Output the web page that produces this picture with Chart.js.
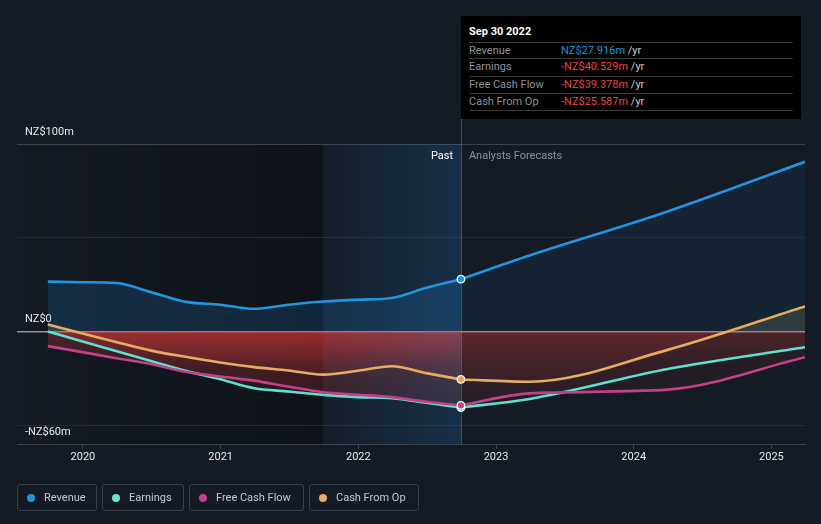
<!DOCTYPE html>
<html>
<head>
<meta charset="utf-8">
<script src="https://cdn.jsdelivr.net/npm/chart.js@4"></script>
<style>
html,body{margin:0;padding:0;background:#151b24;width:821px;height:524px;overflow:hidden;font-family:Roboto,"Noto Sans",sans-serif;}
#wrap{position:relative;width:821px;height:524px;}
#c{position:absolute;left:0;top:0;}
.ann{position:absolute;font-size:11px;line-height:13px;white-space:nowrap;}
#past{color:#ffffff;}
#fc{color:#8c9199;}
.tip{position:absolute;left:461px;top:16px;width:340px;height:103px;background:#000;}
.tip .title{position:absolute;left:8px;top:9px;font-weight:bold;color:#fff;font-size:11px;line-height:13px;}
.tip .row{position:absolute;left:8px;width:324px;height:17px;border-top:1px solid #3a3a3a;font-size:11px;line-height:15px;color:#8e9299;}
.tip .row .v{position:absolute;left:92px;top:0;}
.tip .end{position:absolute;left:8px;width:324px;top:94px;border-top:1px solid #3a3a3a;}
.blue{color:#2394df}.red{color:#ea4646}.unit{color:#c9ccd0}
.legend{position:absolute;left:17px;top:484px;display:flex;gap:5px;}
.li{box-sizing:border-box;height:27px;border:1px solid #3a404a;border-radius:3px;display:flex;align-items:center;padding:0 0 0 9px;font-size:11px;color:#c6c9ce;white-space:nowrap;overflow:hidden;}
.dot{width:8px;height:8px;border-radius:50%;margin-right:9px;flex:none;}
</style>
</head>
<body>
<div id="wrap">
<canvas id="c" width="821" height="524"></canvas>
<div class="ann" id="past">Past</div>
<div class="ann" id="fc">Analysts Forecasts</div>
<div class="tip">
  <div class="title">Sep 30 2022</div>
  <div class="row" style="top:26px">Revenue<span class="v"><span class="blue">NZ$27.916m</span> <span class="unit">/yr</span></span></div>
  <div class="row" style="top:42px">Earnings<span class="v"><span class="red">-NZ$40.529m</span> <span class="unit">/yr</span></span></div>
  <div class="row" style="top:60px">Free Cash Flow<span class="v"><span class="red">-NZ$39.378m</span> <span class="unit">/yr</span></span></div>
  <div class="row" style="top:77px">Cash From Op<span class="v"><span class="red">-NZ$25.587m</span> <span class="unit">/yr</span></span></div>
  <div class="end"></div>
</div>
<div class="legend">
  <div class="li" style="width:80px"><span class="dot" style="background:#2394df"></span>Revenue</div>
  <div class="li" style="width:82px"><span class="dot" style="background:#6ae0d3"></span>Earnings</div>
  <div class="li" style="width:115px"><span class="dot" style="background:#c4418a"></span>Free Cash Flow</div>
  <div class="li" style="width:110px"><span class="dot" style="background:#e6ad62"></span>Cash From Op</div>
</div>
</div>
<script>
// ---- data (NZ$ millions, trailing twelve months) ----
const pastDates = ['2019-09-30','2019-12-31','2020-03-31','2020-06-30','2020-09-30','2020-12-31','2021-03-31','2021-06-30','2021-09-30','2021-12-31','2022-03-31','2022-06-30','2022-09-30'];
const revenuePast  = [26.6, 26.3, 25.9, 21.0, 15.8, 14.3, 12.1, 14.3, 16.0, 17.0, 17.9, 23.3, 27.916];
const earningsPast = [0.0, -5.3, -10.5, -15.7, -21.0, -25.5, -30.3, -32.0, -33.8, -35.0, -35.6, -38.0, -40.529];
const fcfPast      = [-7.8, -11.0, -14.3, -17.3, -21.5, -24.0, -26.2, -29.4, -32.4, -33.7, -35.0, -37.5, -39.378];
const cfoPast      = [3.7, -1.1, -5.7, -10.2, -13.5, -16.5, -19.0, -20.8, -23.0, -20.9, -18.5, -22.2, -25.587];

const forecastDates    = ['2022-09-30','2023-03-31','2024-03-31','2025-03-31'];
const revenueForecast  = [27.916, 40.5, 64.0, 90.5];
const earningsForecast = [-40.529, -36.0, -20.0, -8.4];
const fcfForecast      = [-39.378, -33.0, -31.0, -13.7];
const cfoForecast      = [-25.587, -26.8, -9.8, 13.4];

const yTickValues = [-60, -50, 0, 50, 100];
const yTickLabels = ['-NZ$60m', '', 'NZ$0', '', 'NZ$100m'];
const xTickValues = [2020, 2021, 2022, 2023, 2024, 2025];
const highlightStartDate = '2021-09-30';
const dividerDate = '2022-09-30';

const COLORS = {revenue:'#2394df', earnings:'#5fe0cf', fcf:'#c4418a', cfo:'#e6ad62'};

function yearFrac(s){
  const d = new Date(s + 'T00:00:00Z');
  const y = d.getUTCFullYear();
  const a = Date.UTC(y,0,1), b = Date.UTC(y+1,0,1);
  return y + (d.getTime() - a) / (b - a);
}
function pts(dates, vals){ return dates.map((d,i)=>({x: yearFrac(d), y: vals[i]})); }

const xMax = yearFrac(forecastDates[forecastDates.length-1]);
const xMin = xMax - 5.7226;

function redGrad(ctx, strong){
  const chart = ctx.chart;
  const area = chart.chartArea;
  if (!area) return 'rgba(225,60,60,0.2)';
  const y0 = chart.scales.y.getPixelForValue(0);
  const g = chart.ctx.createLinearGradient(0, y0, 0, area.bottom);
  if (strong){
    g.addColorStop(0, 'rgba(225,58,58,0.30)');
    g.addColorStop(0.3, 'rgba(225,58,58,0.13)');
    g.addColorStop(1, 'rgba(225,58,58,0.03)');
  } else {
    g.addColorStop(0, 'rgba(225,58,58,0.14)');
    g.addColorStop(0.3, 'rgba(225,58,58,0.08)');
    g.addColorStop(1, 'rgba(225,58,58,0.02)');
  }
  return g;
}

const lastPast = pastDates.length - 1;
function mkPast(label, vals, color, fillOpt, bg){
  return {
    label, data: pts(pastDates, vals), borderColor: color, borderWidth: 2.6,
    backgroundColor: bg, fill: fillOpt, cubicInterpolationMode: 'monotone',
    pointRadius: c => c.dataIndex === lastPast ? 3.8 : 0,
    pointHoverRadius: 0,
    pointBackgroundColor: color, pointBorderColor: '#ffffff', pointBorderWidth: 1.3
  };
}
function mkFc(label, vals, color, fillOpt, bg){
  return {
    label, data: pts(forecastDates, vals), borderColor: color, borderWidth: 2.6,
    backgroundColor: bg, fill: fillOpt, cubicInterpolationMode: 'monotone',
    pointRadius: 0, pointHoverRadius: 0
  };
}

const datasets = [
  mkPast('Revenue', revenuePast, COLORS.revenue, 'origin', 'rgba(33,150,243,0.16)'),
  mkFc('Revenue', revenueForecast, COLORS.revenue, 'origin', 'rgba(33,150,243,0.07)'),
  mkPast('Cash From Op', cfoPast, COLORS.cfo, {target:'origin', above:'rgba(210,200,140,0.15)'}, c => redGrad(c, true)),
  mkFc('Cash From Op', cfoForecast, COLORS.cfo, {target:'origin', above:'rgba(210,200,140,0.15)'}, c => redGrad(c, false)),
  mkPast('Free Cash Flow', fcfPast, COLORS.fcf, 'origin', c => redGrad(c, true)),
  mkFc('Free Cash Flow', fcfForecast, COLORS.fcf, 'origin', c => redGrad(c, false)),
  mkPast('Earnings', earningsPast, COLORS.earnings, 'origin', c => redGrad(c, true)),
  mkFc('Earnings', earningsForecast, COLORS.earnings, 'origin', c => redGrad(c, false))
];

const bgPlugin = {
  id: 'bgPlugin',
  beforeDraw(chart){
    const {ctx, chartArea: a, scales: {x}} = chart;
    const xs = x.getPixelForValue(yearFrac(highlightStartDate));
    ctx.save();
    const g = ctx.createLinearGradient(a.left, 0, xs, 0);
    g.addColorStop(0, 'rgba(0,0,0,0.02)');
    g.addColorStop(1, 'rgba(0,0,0,0.30)');
    ctx.fillStyle = g;
    ctx.fillRect(a.left, a.top, xs - a.left, a.bottom - a.top);
    ctx.restore();
  },
  beforeDatasetsDraw(chart){
    const {ctx, chartArea: a, scales: {x}} = chart;
    const xs = x.getPixelForValue(yearFrac(highlightStartDate));
    const xd = x.getPixelForValue(yearFrac(dividerDate));
    ctx.save();
    const g = ctx.createLinearGradient(xs, 0, xd, 0);
    g.addColorStop(0, 'rgba(33,150,243,0.03)');
    g.addColorStop(1, 'rgba(33,150,243,0.17)');
    ctx.fillStyle = g;
    ctx.fillRect(xs, a.top, xd - xs, a.bottom - a.top);
    ctx.restore();
  },
  afterDatasetsDraw(chart){
    const {ctx, chartArea: a, scales: {x}} = chart;
    const xd = Math.round(x.getPixelForValue(yearFrac(dividerDate))) + 0.5;
    ctx.save();
    ctx.strokeStyle = 'rgba(110,140,170,0.45)';
    ctx.lineWidth = 1;
    ctx.beginPath();
    ctx.moveTo(xd, 119);
    ctx.lineTo(xd, a.bottom);
    ctx.stroke();
    ctx.restore();
  }
};

const chart = new Chart(document.getElementById('c'), {
  type: 'line',
  data: { datasets },
  plugins: [bgPlugin],
  options: {
    responsive: false,
    animation: false,
    devicePixelRatio: 1,
    events: [],
    layout: { padding: { left: 17, right: 16, top: 144, bottom: 50 } },
    plugins: {
      legend: { display: false },
      tooltip: { enabled: false },
      filler: { drawTime: 'beforeDatasetsDraw' }
    },
    scales: {
      x: {
        type: 'linear', min: xMin, max: xMax,
        afterBuildTicks: s => { s.ticks = xTickValues.map(v => ({value: v})); },
        afterFit: s => { s.height = 30; },
        ticks: { color: '#e8e8e8', font: { family: 'Roboto', size: 11 }, padding: 2, maxRotation: 0,
                 callback: v => String(v) },
        grid: { display: true, drawOnChartArea: false, drawTicks: true, tickLength: 5, color: '#3c424b' },
        border: { display: true, color: '#3c424b' }
      },
      y: {
        min: -60, max: 100,
        afterBuildTicks: s => { s.ticks = yTickValues.map(v => ({value: v})); },
        afterFit: s => { s.width = 0; },
        ticks: {
          mirror: true, padding: 8, labelOffset: -12, color: '#e8e8e8',
          font: { family: 'Roboto', size: 11 },
          callback: (v) => { const i = yTickValues.indexOf(v); return i >= 0 ? yTickLabels[i] : ''; }
        },
        grid: {
          drawTicks: false,
          lineWidth: c => (c.tick && c.tick.value === 0) ? 1.5 : 1,
          color: c => {
            const v = c.tick ? c.tick.value : null;
            if (v === 0) return 'rgba(190,190,190,0.75)';
            if (v === 100) return '#3b4049';
            if (v === -60) return 'rgba(0,0,0,0)';
            return '#252b33';
          }
        },
        border: { display: false }
      }
    }
  }
});

// position "Past" / "Analysts Forecasts" annotations relative to the divider
const xd = chart.scales.x.getPixelForValue(yearFrac(dividerDate));
const pastEl = document.getElementById('past');
pastEl.style.top = '149px';
pastEl.style.left = (xd - 8 - pastEl.offsetWidth) + 'px';
const fcEl = document.getElementById('fc');
fcEl.style.top = '149px';
fcEl.style.left = (xd + 8) + 'px';
</script>
</body>
</html>
